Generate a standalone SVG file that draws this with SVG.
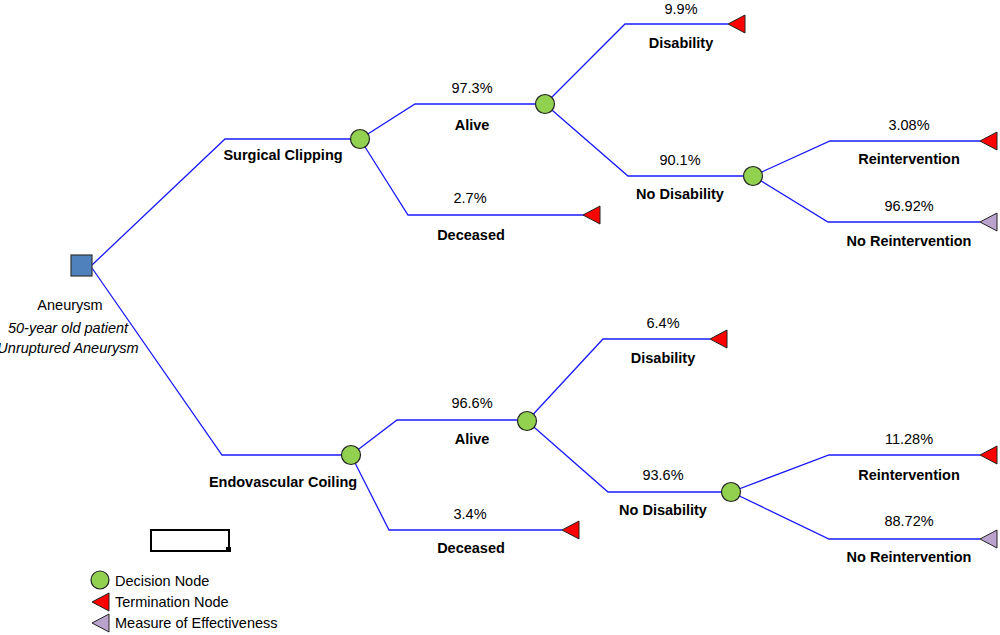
<svg xmlns="http://www.w3.org/2000/svg" width="1000" height="635" viewBox="0 0 1000 635">
<style>
text{font-family:"Liberation Sans",Arial,sans-serif;font-size:14.5px;fill:#000;text-anchor:middle}
.b{font-weight:bold}
.i{font-style:italic}
.l{text-anchor:start}
.e{fill:none;stroke:#1a1aff;stroke-width:1.3}
.dec{fill:#92d050;stroke:#222;stroke-width:1.2}
.term{fill:#ff0000;stroke:#222;stroke-width:1}
.moe{fill:#b9a3cc;stroke:#222;stroke-width:1}
</style>
<defs>
<polygon id="tri" points="0,0 17,-9 17,9"/>
</defs>
<g id="connectors">
<polyline class="e" points="92,265 225,139 360,139"/>
<polyline class="e" points="92,268 222,455 351,455"/>
<polyline class="e" points="360,139 415,104 545,104"/>
<polyline class="e" points="360,139 408,215 585,215"/>
<polyline class="e" points="545,104 625,24 728,24"/>
<polyline class="e" points="545,104 628,176 753,176"/>
<polyline class="e" points="753,176 830,141 980,141"/>
<polyline class="e" points="753,176 828,222 980,222"/>
<polyline class="e" points="351,455 397,420 527,420"/>
<polyline class="e" points="351,455 389,530 562,530"/>
<polyline class="e" points="527,421 603,339 710,339"/>
<polyline class="e" points="527,421 608,492 731,492"/>
<polyline class="e" points="731,492 829,455 980,455"/>
<polyline class="e" points="731,492 829,539 980,539"/>
</g>
<g id="root">
<rect x="71" y="255" width="21" height="21" fill="#4f81bd" stroke="#333" stroke-width="1.2"/>
<text x="70" y="310">Aneurysm</text>
<text class="i" x="68" y="333">50-year old patient</text>
<text class="i" x="68" y="353">Unruptured Aneurysm</text>
</g>
<g id="surgical">
<circle class="dec" cx="360" cy="139" r="9.5"/>
<text class="b" x="283" y="160">Surgical Clipping</text>
</g>
<g id="s-alive">
<circle class="dec" cx="545" cy="104" r="9.5"/>
<text x="472" y="93">97.3%</text>
<text class="b" x="472" y="130">Alive</text>
</g>
<g id="s-deceased">
<use href="#tri" class="term" x="583" y="215"/>
<text x="470" y="203">2.7%</text>
<text class="b" x="471" y="240">Deceased</text>
</g>
<g id="s-disability">
<use href="#tri" class="term" x="728" y="24"/>
<text x="681" y="14">9.9%</text>
<text class="b" x="681" y="48">Disability</text>
</g>
<g id="s-nodisability">
<circle class="dec" cx="753" cy="176" r="9.5"/>
<text x="680" y="165">90.1%</text>
<text class="b" x="680" y="199">No Disability</text>
</g>
<g id="s-reint">
<use href="#tri" class="term" x="980" y="141"/>
<text x="909" y="130">3.08%</text>
<text class="b" x="909" y="164">Reintervention</text>
</g>
<g id="s-noreint">
<use href="#tri" class="moe" x="980" y="222"/>
<text x="909" y="211">96.92%</text>
<text class="b" x="909" y="246">No Reintervention</text>
</g>
<g id="endovascular">
<circle class="dec" cx="351" cy="455" r="9.5"/>
<text class="b" x="283" y="487">Endovascular Coiling</text>
</g>
<g id="e-alive">
<circle class="dec" cx="527" cy="421" r="9.5"/>
<text x="472" y="408">96.6%</text>
<text class="b" x="472" y="444">Alive</text>
</g>
<g id="e-deceased">
<use href="#tri" class="term" x="562" y="530"/>
<text x="470" y="519">3.4%</text>
<text class="b" x="471" y="553">Deceased</text>
</g>
<g id="e-disability">
<use href="#tri" class="term" x="710" y="339"/>
<text x="663" y="328">6.4%</text>
<text class="b" x="663" y="363">Disability</text>
</g>
<g id="e-nodisability">
<circle class="dec" cx="731" cy="492" r="9.5"/>
<text x="663" y="480">93.6%</text>
<text class="b" x="663" y="515">No Disability</text>
</g>
<g id="e-reint">
<use href="#tri" class="term" x="980" y="455"/>
<text x="909" y="444">11.28%</text>
<text class="b" x="909" y="480">Reintervention</text>
</g>
<g id="e-noreint">
<use href="#tri" class="moe" x="980" y="539"/>
<text x="909" y="526">88.72%</text>
<text class="b" x="909" y="562">No Reintervention</text>
</g>
<g id="legend">
<rect x="151" y="530" width="78" height="21" fill="#fff" stroke="#000" stroke-width="2"/>
<rect x="226" y="547" width="5" height="5" fill="#000"/>
<circle class="dec" cx="100" cy="580" r="9"/>
<text class="l" x="115" y="586">Decision Node</text>
<use href="#tri" class="term" x="92" y="602"/>
<text class="l" x="115" y="607">Termination Node</text>
<use href="#tri" class="moe" x="92" y="623"/>
<text class="l" x="115" y="628">Measure of Effectiveness</text>
</g>
</svg>
